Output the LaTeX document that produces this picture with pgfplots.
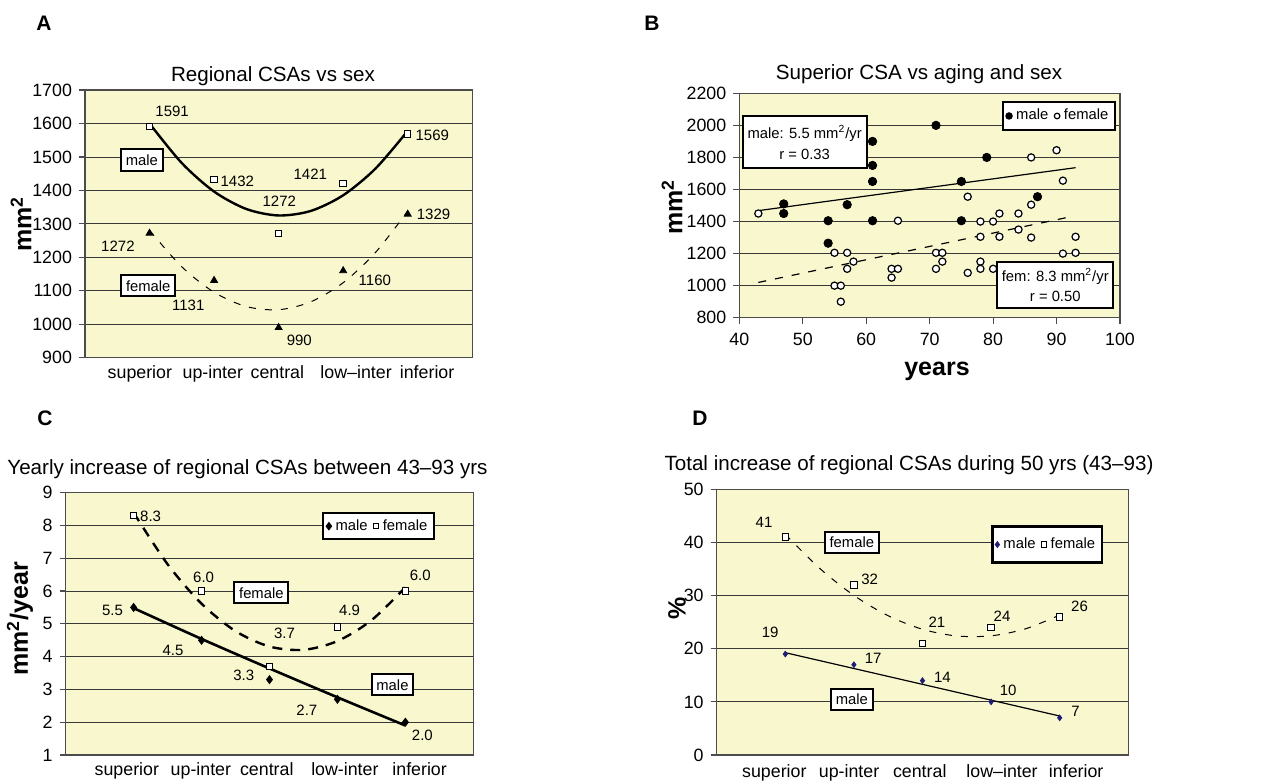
\documentclass[border=0pt]{standalone}
\usepackage{fontspec}
\setmainfont{Liberation Sans}
\usepackage{pgfplots}
\pgfplotsset{compat=1.18}
\definecolor{bgy}{RGB}{249,247,206}
\definecolor{navy}{RGB}{30,30,120}
\pgfplotsset{
  panel/.style={
    scale only axis, clip=false,
    axis background/.style={fill=bgy},
    axis line style={black!70, line width=0.7pt},
    ymajorgrids, grid style={black!78, line width=0.45pt},
    tick style={black!70, line width=0.6pt},
    tick align=outside, major tick length=3pt,
    xtick pos=bottom, ytick pos=left,
    ticklabel style={font=\fontsize{8.9}{10}\selectfont},
    /pgf/number format/assume math mode=true,
    /pgf/number format/1000 sep={},
  },
  nox/.style={x tick style={draw=none}},
  onemark/.style={legend image code/.code={\draw[##1, only marks, mark size=#1] plot coordinates {(0.06cm,0cm)};}},
}
\tikzset{
  dl/.style={font=\fontsize{7.5}{8}\selectfont, inner sep=0pt},
  bx/.style={draw=black, line width=1pt, fill=white, font=\fontsize{7.4}{8}\selectfont, inner xsep=2.4pt, inner ysep=2.6pt},
  ttl/.style={font=\fontsize{10.3}{12}\selectfont, anchor=base},
  lab/.style={font=\fontsize{12.5}{14}\selectfont\bfseries},
  let/.style={font=\fontsize{10.5}{12}\selectfont\bfseries},
}
\begin{document}
\begin{tikzpicture}
\useasboundingbox (0,0) rectangle (637.5pt,-391.5pt);
% ---------- panel letters and titles
\node[let] at (22pt,-11.5pt) {A};
\node[let] at (326pt,-11.5pt) {B};
\node[let] at (22.5pt,-209pt) {C};
\node[let] at (350pt,-209pt) {D};
\node[ttl] at (136.5pt,-40.8pt) {Regional CSAs vs sex};
\node[ttl] at (459.5pt,-39.5pt) {Superior CSA vs aging and sex};
\node[ttl] at (123.75pt,-237pt) {Yearly increase of regional CSAs between 43–93 yrs};
\node[ttl] at (454.5pt,-235.3pt) {Total increase of regional CSAs during 50 yrs (43–93)};
\node[lab, rotate=90] at (10.5pt,-112pt) {mm\textsuperscript{2}};
\node[lab, rotate=90] at (336pt,-103.5pt) {mm\textsuperscript{2}};
\node[lab, anchor=base] at (468.5pt,-187.5pt) {years};
\node[lab, rotate=90] at (10pt,-309.5pt) {mm\textsuperscript{2}/year};
\node[lab, rotate=90] at (338.5pt,-304pt) {\%};

% ---------- Panel A
\begin{axis}[panel, nox, at={(42.5pt,-178.85pt)}, anchor=south west,
  width=193.65pt, height=133.85pt,
  xmin=0, xmax=6, ymin=900, ymax=1700, ytick={900,1000,...,1700},
  xtick={0.85,1.98,2.98,4.2,5.3},
  xticklabel style={yshift=2.5pt},
  xticklabels={superior,up-inter,central,low–inter,inferior}]
\addplot[black, line width=1.2pt, smooth] coordinates {(1,1599.9)(1.5,1481.7)(2,1396.5)(2.5,1344.4)(3,1325.1)(3.5,1338.8)(4,1385.5)(4.5,1465.2)(5,1577.9)};
\addplot[black, line width=0.5pt, dash pattern=on 3.5pt off 4.5pt, smooth] coordinates {(1,1280.8)(1.5,1171.6)(2,1095.6)(2.5,1052.9)(3,1043.4)(3.5,1067.2)(4,1124.2)(4.5,1214.5)(5,1338)};
\addplot[only marks, mark=square*, mark options={fill=white, draw=black, line width=0.5pt}, mark size=1.6pt] coordinates {(1,1591)(2,1432)(3,1272)(4,1421)(5,1569)};
\addplot[only marks, mark=triangle*, mark options={fill=black, draw=black}, mark size=2pt] coordinates {(1,1272)(2,1131)(3,990)(4,1160)(5,1329)};
\node[dl] at (axis cs:1.35,1637) {1591};
\node[dl] at (axis cs:2.36,1428) {1432};
\node[dl] at (axis cs:3.01,1368) {1272};
\node[dl] at (axis cs:3.49,1449) {1421};
\node[dl] at (axis cs:5.38,1566) {1569};
\node[dl] at (axis cs:0.51,1234) {1272};
\node[dl] at (axis cs:1.6,1058) {1131};
\node[dl] at (axis cs:3.32,953) {990};
\node[dl] at (axis cs:4.49,1132) {1160};
\node[dl] at (axis cs:5.40,1328) {1329};
\node[bx] at (axis cs:0.88,1491) {male};
\node[bx] at (axis cs:0.98,1115) {female};
\end{axis}

% ---------- Panel B
\begin{axis}[panel, at={(369.65pt,-158.85pt)}, anchor=south west,
  width=190.35pt, height=112.2pt,
  xmin=40, xmax=100, ymin=800, ymax=2200,
  xtick={40,50,...,100}, ytick={800,1000,...,2200},
  xticklabel style={yshift=-1.2pt},
  legend style={at={(0.84,0.899)}, anchor=center, draw=black, line width=1pt, fill=white,
    font=\fontsize{7.4}{8}\selectfont, inner xsep=1.5pt, inner ysep=1.5pt,
    /tikz/every even column/.append style={column sep=1pt}},
  legend columns=2, legend image post style={line width=0.5pt}]
\addplot[black, line width=0.6pt, forget plot] coordinates {(43,1468)(93,1736)};
\addplot[black, line width=0.6pt, dash pattern=on 4pt off 4.5pt, forget plot] coordinates {(43,1020)(92,1428)};
\addplot[only marks, mark=*, mark options={fill=black, draw=black}, mark size=2.1pt, onemark=1.6pt]
  coordinates {(47,1510)(47,1450)(54,1405)(54,1265)(57,1505)(61,1900)(61,1750)(61,1650)(61,1405)(71,2000)(75,1650)(75,1405)(79,1800)(87,1555)};
\addlegendentry{male}
\addplot[only marks, mark=*, mark options={fill=white, draw=black, line width=0.6pt}, mark size=1.8pt, onemark=1.4pt]
  coordinates {(43,1450)(55,1205)(57,1205)(58,1150)(57,1105)(55,1000)(56,1000)(56,900)(65,1405)(64,1105)(65,1105)(64,1050)(71,1205)(72,1205)(72,1150)(71,1105)(76,1555)(76,1080)(78,1400)(78,1305)(78,1150)(78,1105)(80,1400)(80,1105)(81,1450)(81,1305)(84,1450)(84,1350)(86,1800)(86,1505)(86,1300)(90,1845)(91,1655)(91,1200)(93,1305)(93,1205)};
\addlegendentry{female}
\node[bx, align=center, font=\fontsize{7.4}{10.3}\selectfont, minimum width=57pt, minimum height=26pt] at (axis cs:50.3,1894) {male: 5.5 mm\textsuperscript{2}/yr\\r = 0.33};
\node[bx, align=center, font=\fontsize{7.4}{10.3}\selectfont, minimum width=54pt, minimum height=23pt] at (axis cs:89.8,1004) {fem: 8.3 mm\textsuperscript{2}/yr\\r = 0.50};
\end{axis}

% ---------- Panel C
\begin{axis}[panel, nox, at={(32.85pt,-377.5pt)}, anchor=south west,
  width=203.8pt, height=131.15pt,
  xmin=0, xmax=6, ymin=1, ymax=9, ytick={1,2,...,9},
  xtick={0.90,1.99,2.96,4.11,5.21},
  xticklabel style={yshift=2.5pt},
  xticklabels={superior,up-inter,central,low-inter,inferior},
  legend style={at={(0.768,0.8725)}, anchor=center, draw=black, line width=1pt, fill=white,
    font=\fontsize{7.4}{8}\selectfont, inner xsep=1.5pt, inner ysep=1pt,
    /tikz/every even column/.append style={column sep=1pt}},
  legend columns=2, legend image post style={line width=0.5pt}]
\addplot[black, line width=1.3pt, smooth, forget plot] coordinates {(1,5.48)(2,4.54)(3,3.64)(4,2.76)(5,1.9)};
\addplot[black, line width=1.2pt, dash pattern=on 5pt off 4pt, smooth, forget plot] coordinates {(1,8.392)(1.5,6.819)(2,5.615)(2.5,4.778)(3,4.309)(3.5,4.208)(4,4.475)(4.5,5.109)(5,6.112)};
\addplot[only marks, mark=diamond*, mark options={fill=black, draw=black}, mark size=2pt, onemark=1.8pt]
  coordinates {(1,5.5)(2,4.5)(3,3.3)(4,2.7)(5,2.0)};
\addlegendentry{male}
\addplot[only marks, mark=square*, mark options={fill=white, draw=black, line width=0.5pt}, mark size=1.6pt, onemark=1.3pt]
  coordinates {(1,8.3)(2,6.0)(3,3.7)(4,4.9)(5,6.0)};
\addlegendentry{female}
\node[dl] at (axis cs:1.25,8.29) {8.3};
\node[dl] at (axis cs:2.03,6.42) {6.0};
\node[dl] at (axis cs:3.22,4.71) {3.7};
\node[dl] at (axis cs:4.18,5.40) {4.9};
\node[dl] at (axis cs:5.22,6.47) {6.0};
\node[dl] at (axis cs:0.69,5.40) {5.5};
\node[dl] at (axis cs:1.58,4.20) {4.5};
\node[dl] at (axis cs:2.62,3.44) {3.3};
\node[dl] at (axis cs:3.55,2.35) {2.7};
\node[dl] at (axis cs:5.25,1.61) {2.0};
\node[bx] at (axis cs:2.88,5.95) {female};
\node[bx] at (axis cs:4.81,3.14) {male};
\end{axis}

% ---------- Panel D
\begin{axis}[panel, nox, at={(358.35pt,-377.5pt)}, anchor=south west,
  width=205.8pt, height=132.85pt,
  xmin=0, xmax=6, ymin=0, ymax=50, ytick={0,10,...,50},
  xtick={0.84,1.93,2.96,4.16,5.24},
  xticklabel style={yshift=1.5pt},
  xticklabels={superior,up-inter,central,low–inter,inferior},
  legend style={at={(0.803,0.792)}, anchor=center, draw=black, line width=1.3pt, fill=white,
    font=\fontsize{7.4}{8}\selectfont, inner xsep=1.5pt, inner ysep=3.5pt,
    /tikz/every even column/.append style={column sep=1pt}},
  legend columns=2, legend image post style={line width=0.5pt}]
\addplot[black, line width=0.6pt, forget plot] coordinates {(1,19.26)(5,7.34)};
\addplot[black, line width=0.5pt, dash pattern=on 3.5pt off 4.5pt, smooth, forget plot] coordinates {(1,41.54)(1.5,35.14)(2,30.03)(2.5,26.2)(3,23.66)(3.5,22.4)(4,22.43)(4.5,23.74)(5,26.34)};
\addplot[only marks, mark=diamond*, mark options={fill=navy, draw=navy}, mark size=1.4pt, onemark=1.4pt]
  coordinates {(1,19)(2,17)(3,14)(4,10)(5,7)};
\addlegendentry{male}
\addplot[only marks, mark=square*, mark options={fill=white, draw=black, line width=0.5pt}, mark size=1.6pt, onemark=1.3pt]
  coordinates {(1,41)(2,32)(3,21)(4,24)(5,26)};
\addlegendentry{female}
\node[dl] at (axis cs:0.69,43.8) {41};
\node[dl] at (axis cs:2.23,33.1) {32};
\node[dl] at (axis cs:3.21,24.9) {21};
\node[dl] at (axis cs:4.16,26.2) {24};
\node[dl] at (axis cs:5.29,27.9) {26};
\node[dl] at (axis cs:0.78,23.0) {19};
\node[dl] at (axis cs:2.28,18.1) {17};
\node[dl] at (axis cs:3.29,14.7) {14};
\node[dl] at (axis cs:4.25,12.2) {10};
\node[dl] at (axis cs:5.23,8.2) {7};
\node[bx] at (axis cs:1.97,40.0) {female};
\node[bx] at (axis cs:1.97,10.5) {male};
\end{axis}
\end{tikzpicture}
\end{document}
